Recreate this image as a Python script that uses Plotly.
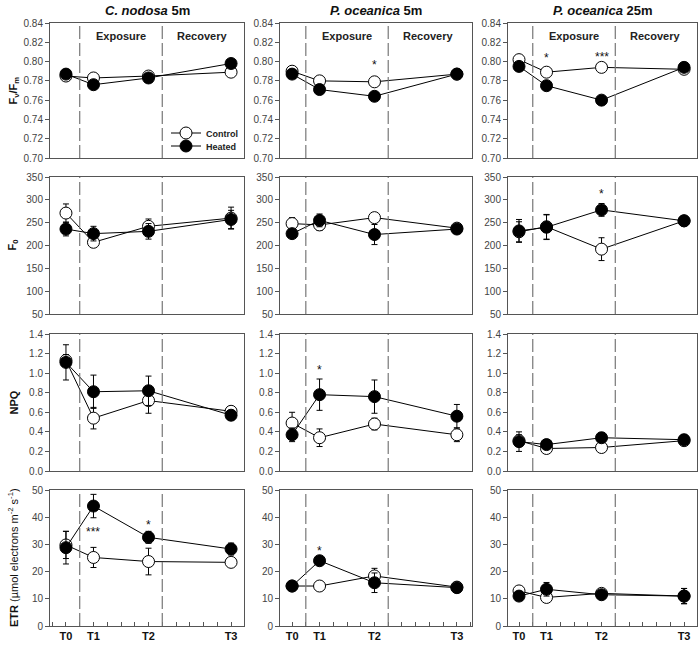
import plotly.graph_objects as go

times = [0, 1, 3, 6]
time_labels = ["T0", "T1", "T2", "T3"]
panel_titles = ["<i>C. nodosa</i> 5m", "<i>P. oceanica</i> 5m", "<i>P. oceanica</i> 25m"]
row_titles = ["<b>F<sub>v</sub>/F<sub>m</sub></b>", "<b>F<sub>0</sub></b>", "<b>NPQ</b>",
              "<b>ETR</b> (µmol electrons m<sup>-2</sup> s<sup>-1</sup>)"]

fvfm_control = [[0.785, 0.783, 0.785, 0.789], [0.790, 0.780, 0.779, 0.787], [0.802, 0.789, 0.794, 0.792]]
fvfm_control_err = [[0.002, 0.002, 0.002, 0.002]] * 3
fvfm_heated = [[0.787, 0.776, 0.783, 0.798], [0.787, 0.771, 0.764, 0.787], [0.795, 0.775, 0.760, 0.794]]
fvfm_heated_err = [[0.002, 0.002, 0.002, 0.002]] * 3

f0_control = [[271, 207, 242, 260], [248, 245, 261, 238], [230, 241, 192, 254]]
f0_control_err = [[20, 10, 16, 24], [13, 12, 6, 6], [22, 27, 25, 8]]
f0_heated = [[236, 226, 231, 257], [226, 255, 224, 236], [232, 240, 278, 254]]
f0_heated_err = [[15, 16, 17, 20], [8, 14, 22, 6], [25, 27, 14, 8]]

npq_control = [[1.13, 0.54, 0.72, 0.61], [0.49, 0.34, 0.48, 0.37], [0.31, 0.23, 0.24, 0.31]]
npq_control_err = [[0.06, 0.11, 0.13, 0.05], [0.11, 0.09, 0.06, 0.07], [0.06, 0.03, 0.03, 0.05]]
npq_heated = [[1.11, 0.81, 0.82, 0.57], [0.37, 0.78, 0.76, 0.56], [0.30, 0.27, 0.34, 0.32]]
npq_heated_err = [[0.18, 0.17, 0.15, 0.05], [0.07, 0.16, 0.17, 0.12], [0.10, 0.04, 0.05, 0.05]]

etr_control = [[29.8, 25.2, 23.7, 23.4], [14.7, 14.7, 18.4, 14.3], [12.9, 10.5, 12.0, 11.0]]
etr_control_err = [[5.0, 3.7, 4.9, 1.5], [1.2, 1.2, 2.8, 1.0], [1.2, 1.2, 1.0, 2.8]]
etr_heated = [[28.8, 44.1, 32.6, 28.3], [14.7, 24.0, 15.9, 14.1], [11.0, 13.5, 11.5, 11.0]]
etr_heated_err = [[6.0, 4.3, 2.2, 2.2], [1.2, 1.2, 3.6, 1.0], [1.0, 2.5, 1.0, 2.8]]

# significance: (row, col, time, y, text)
sig_marks = [
    (0, 1, 3, 0.7960, "*"),
    (0, 2, 1, 0.8035, "*"),
    (0, 2, 3, 0.8045, "***"),
    (1, 2, 3, 312, "*"),
    (2, 1, 1, 1.03, "*"),
    (3, 0, 1, 34.5, "***"),
    (3, 0, 3, 37.0, "*"),
    (3, 1, 1, 27.5, "*"),
]

rows = [
    (fvfm_control, fvfm_control_err, fvfm_heated, fvfm_heated_err, [0.70, 0.84], 0.02, ".2f"),
    (f0_control, f0_control_err, f0_heated, f0_heated_err, [50, 350], 50, "d"),
    (npq_control, npq_control_err, npq_heated, npq_heated_err, [0, 1.4], 0.2, ".1f"),
    (etr_control, etr_control_err, etr_heated, etr_heated_err, [0, 50], 10, "d"),
]

W, H = 700, 646
col_px = [(50, 244), (280, 472), (508, 697)]
col_xrange = [[-0.58, 6.47], [-0.44, 6.55], [-0.40, 6.47]]
row_px = [(23, 158), (177, 314), (334, 471), (490, 626)]

FONT = "Liberation Sans, Arial, sans-serif"
AX = "#555555"

legend_common = dict(xanchor="left", yanchor="middle", bgcolor="rgba(0,0,0,0)",
                     font=dict(size=9, color="#222"), itemwidth=30, tracegroupgap=0)

fig = go.Figure()
layout = dict(
    width=W, height=H, margin=dict(l=0, r=0, t=0, b=0),
    paper_bgcolor="white", plot_bgcolor="white",
    font=dict(family=FONT, size=10, color="#333"),
    showlegend=True,
    legend=dict(x=166 / W, y=1 - 133 / H, **legend_common),
    legend2=dict(x=166 / W, y=1 - 146 / H, **legend_common),
)
shapes = []
annotations = []

for r, (cv, ce, hv, he, yr, dt, fmt) in enumerate(rows):
    for c in range(3):
        i = r * 3 + c + 1
        xa = "x" if i == 1 else f"x{i}"
        ya = "y" if i == 1 else f"y{i}"
        xk = "xaxis" if i == 1 else f"xaxis{i}"
        yk = "yaxis" if i == 1 else f"yaxis{i}"
        bottom = r == 3
        layout[xk] = dict(
            domain=[col_px[c][0] / W, col_px[c][1] / W], anchor=ya, range=col_xrange[c],
            showline=True, mirror=True, linecolor=AX, linewidth=1, showgrid=False, zeroline=False,
            tickmode="array", tickvals=times,
            ticktext=[f"<b>{t}</b>" for t in time_labels] if bottom else [""] * 4,
            ticks="", ticklen=0, tickfont=dict(size=11, color="#111"),
            minor=dict(ticks="inside", dtick=0.5, tick0=0, ticklen=4, tickcolor=AX) if bottom else dict(ticks=""),
            automargin=False,
        )
        layout[yk] = dict(
            domain=[1 - row_px[r][1] / H, 1 - row_px[r][0] / H], anchor=xa, range=yr,
            showline=True, mirror=True, linecolor=AX, linewidth=1, showgrid=False, zeroline=False,
            dtick=dt, tick0=yr[0], tickformat=fmt, ticks="outside", ticklen=4, tickcolor=AX,
            tickfont=dict(size=10, color="#444"), automargin=False,
        )
        for xv in (0.5, 3.5):
            shapes.append(dict(type="line", xref=xa, yref=f"{ya} domain", x0=xv, x1=xv, y0=0, y1=1,
                               line=dict(color="#777", width=1.2, dash="13px,4px")))
        fig.add_trace(go.Scatter(
            x=times, y=cv[c], mode="lines+markers", name="<b>Control</b>",
            xaxis=xa, yaxis=ya, showlegend=(i == 1), legend="legend", cliponaxis=False,
            line=dict(color="black", width=1),
            marker=dict(symbol="circle", size=12, color="white", line=dict(color="black", width=1)),
            error_y=dict(type="data", array=ce[c], color="black", thickness=1, width=3),
        ))
        fig.add_trace(go.Scatter(
            x=times, y=hv[c], mode="lines+markers", name="<b>Heated</b>",
            xaxis=xa, yaxis=ya, showlegend=(i == 1), legend="legend2", cliponaxis=False,
            line=dict(color="black", width=1),
            marker=dict(symbol="circle", size=12, color="black", line=dict(color="black", width=1)),
            error_y=dict(type="data", array=he[c], color="black", thickness=1, width=3),
        ))
        if r == 0:
            annotations.append(dict(xref=xa, yref=ya, x=2.0, y=0.8265, text="<b>Exposure</b>",
                                    showarrow=False, xanchor="center", yanchor="middle",
                                    font=dict(size=11, color="#222")))
            annotations.append(dict(xref=xa, yref=ya, x=4.95, y=0.8265, text="<b>Recovery</b>",
                                    showarrow=False, xanchor="center", yanchor="middle",
                                    font=dict(size=11, color="#222")))
            annotations.append(dict(xref="paper", yref="paper",
                                    x=(col_px[c][0] + col_px[c][1]) / 2 / W, y=1 - 11 / H,
                                    text=f"<b>{panel_titles[c]}</b>", showarrow=False,
                                    xanchor="center", yanchor="middle",
                                    font=dict(size=13, color="#111")))
    annotations.append(dict(xref="paper", yref="paper", x=13 / W,
                            y=1 - (row_px[r][0] + row_px[r][1]) / 2 / H,
                            text=row_titles[r], textangle=-90, showarrow=False,
                            xanchor="center", yanchor="middle",
                            font=dict(size=11, color="#111")))

for (r, c, t, yv, txt) in sig_marks:
    i = r * 3 + c + 1
    xa = "x" if i == 1 else f"x{i}"
    ya = "y" if i == 1 else f"y{i}"
    annotations.append(dict(xref=xa, yref=ya, x=t, y=yv, text=txt, showarrow=False,
                            xanchor="center", yanchor="middle",
                            font=dict(size=12, color="#111")))

layout["shapes"] = shapes
layout["annotations"] = annotations
fig.update_layout(**layout)
fig.write_html("out.html", config={"displayModeBar": False},
               post_script="document.body.style.margin='0';document.body.style.padding='0';")
